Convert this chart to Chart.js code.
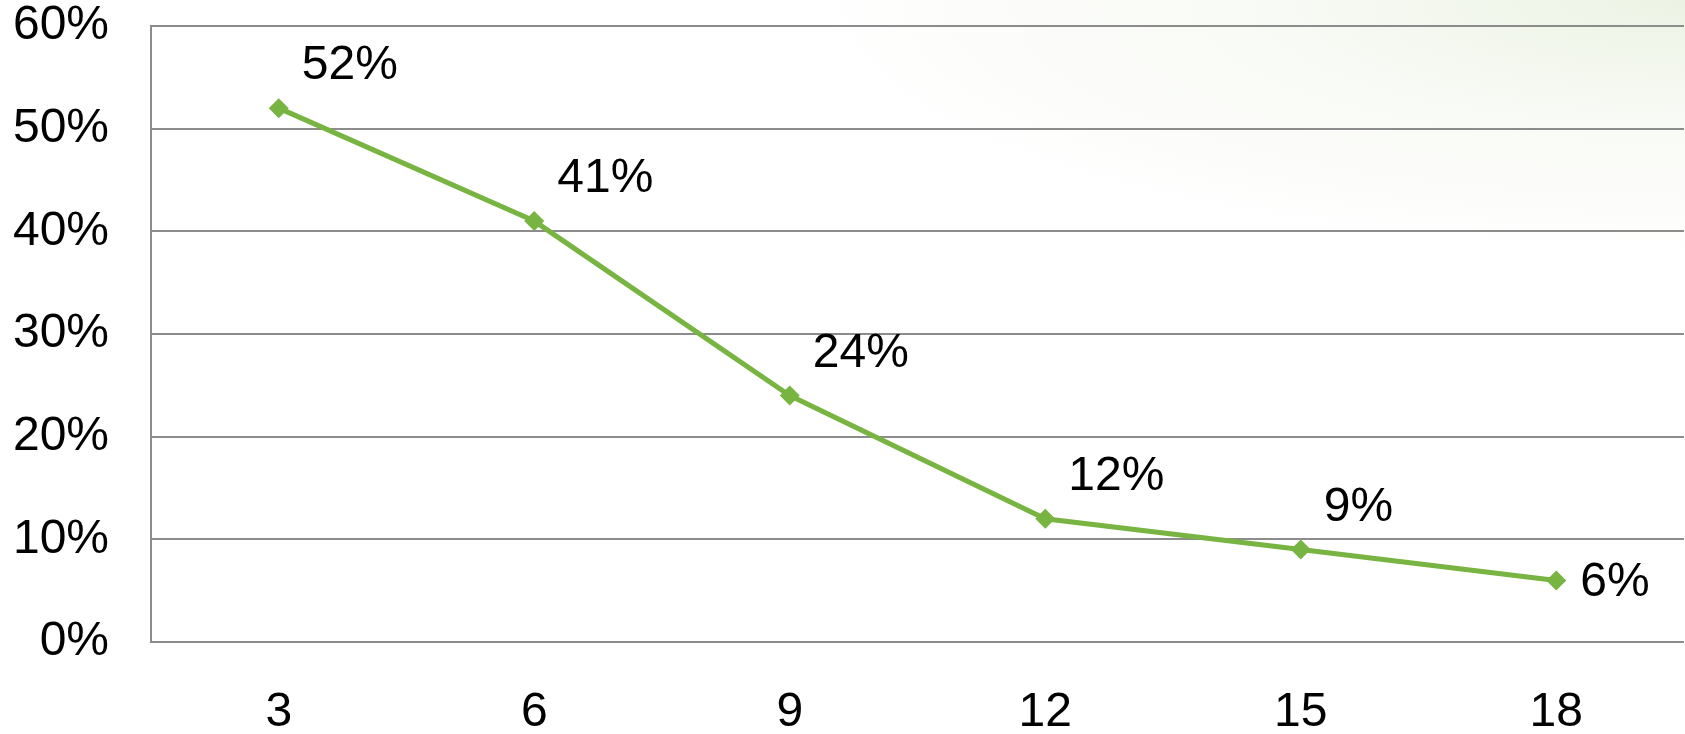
<!DOCTYPE html>
<html>
<head>
<meta charset="utf-8">
<script src="https://cdn.jsdelivr.net/npm/chart.js@4/dist/chart.umd.min.js"></script>
<style>
    html, body {
        margin: 0;
        padding: 0;
        width: 1685px;
        height: 734px;
        overflow: hidden;
        background: #fff;
    }
    #wrap {
        position: relative;
        width: 1685px;
        height: 734px;
        overflow: hidden;
        background: radial-gradient(ellipse 900px 260px at 100% 0%, rgba(236,243,228,1) 0%, rgba(246,249,242,0.8) 45%, rgba(255,255,255,0) 100%);
    }
    canvas { display: block; }
</style>
</head>
<body>
<!-- canvas is a bit wider than the page: the point overflow padding then falls outside the view -->
<div id="wrap"><canvas id="lineChart" width="1694" height="734"></canvas></div>
<script>
var categories = ["3", "6", "9", "12", "15", "18"];
var values = [0.52, 0.41, 0.24, 0.12, 0.09, 0.06];
var valueLabels = ["52%", "41%", "24%", "12%", "9%", "6%"];

var fontFamily = "'Liberation Sans', Arial, sans-serif";
var green = '#78b441';

// draws the percent next to each point
var pointLabels = {
    id: 'pointLabels',
    afterDatasetsDraw: function (chart) {
        var ctx = chart.ctx;
        var meta = chart.getDatasetMeta(0);
        ctx.save();
        ctx.font = '48px ' + fontFamily;
        ctx.fillStyle = '#000';
        ctx.textAlign = 'left';
        ctx.textBaseline = 'middle';
        meta.data.forEach(function (pt, i) {
            if (i === meta.data.length - 1) {
                ctx.fillText(valueLabels[i], pt.x + 24, pt.y + 2);
            } else {
                ctx.fillText(valueLabels[i], pt.x + 23, pt.y - 42);
            }
        });
        ctx.restore();
    }
};

document.addEventListener('DOMContentLoaded', function () {
    var chart = new Chart(document.getElementById("lineChart"), {
        type: 'line',
        data: {
            labels: categories,
            datasets: [{
                data: values,
                borderColor: green,
                backgroundColor: green,
                borderWidth: 5,
                pointStyle: 'rectRot',
                pointRadius: 10,
                pointBorderWidth: 0,
                tension: 0,
                clip: false
            }]
        },
        options: {
            responsive: false,
            animation: false,
            layout: {
                padding: { top: 26, right: 0, left: 0, bottom: 0 }
            },
            plugins: {
                legend: { display: false },
                tooltip: { enabled: false }
            },
            scales: {
                x: {
                    offset: true,
                    grid: { display: false, drawTicks: false },
                    border: { display: false },
                    ticks: {
                        color: '#000',
                        font: { size: 48, family: fontFamily },
                        padding: 42,
                        maxRotation: 0
                    },
                    afterFit: function (scale) {
                        scale.height = 92;
                        scale.paddingLeft = 0;
                        scale.paddingRight = 0;
                    }
                },
                y: {
                    min: 0,
                    max: 0.6,
                    grid: {
                        color: '#8c8c8c',
                        lineWidth: 2,
                        drawTicks: false
                    },
                    border: { display: true, color: '#8c8c8c', width: 2 },
                    ticks: {
                        stepSize: 0.1,
                        color: '#000',
                        font: { size: 48, family: fontFamily },
                        padding: 42,
                        callback: function (v) {
                            return Math.round(v * 100) + '%';
                        }
                    },
                    afterFit: function (scale) {
                        scale.width = 151;
                        scale.paddingTop = 0;
                        scale.paddingBottom = 0;
                    }
                }
            }
        },
        plugins: [pointLabels]
    });
});
</script>
</body>
</html>
